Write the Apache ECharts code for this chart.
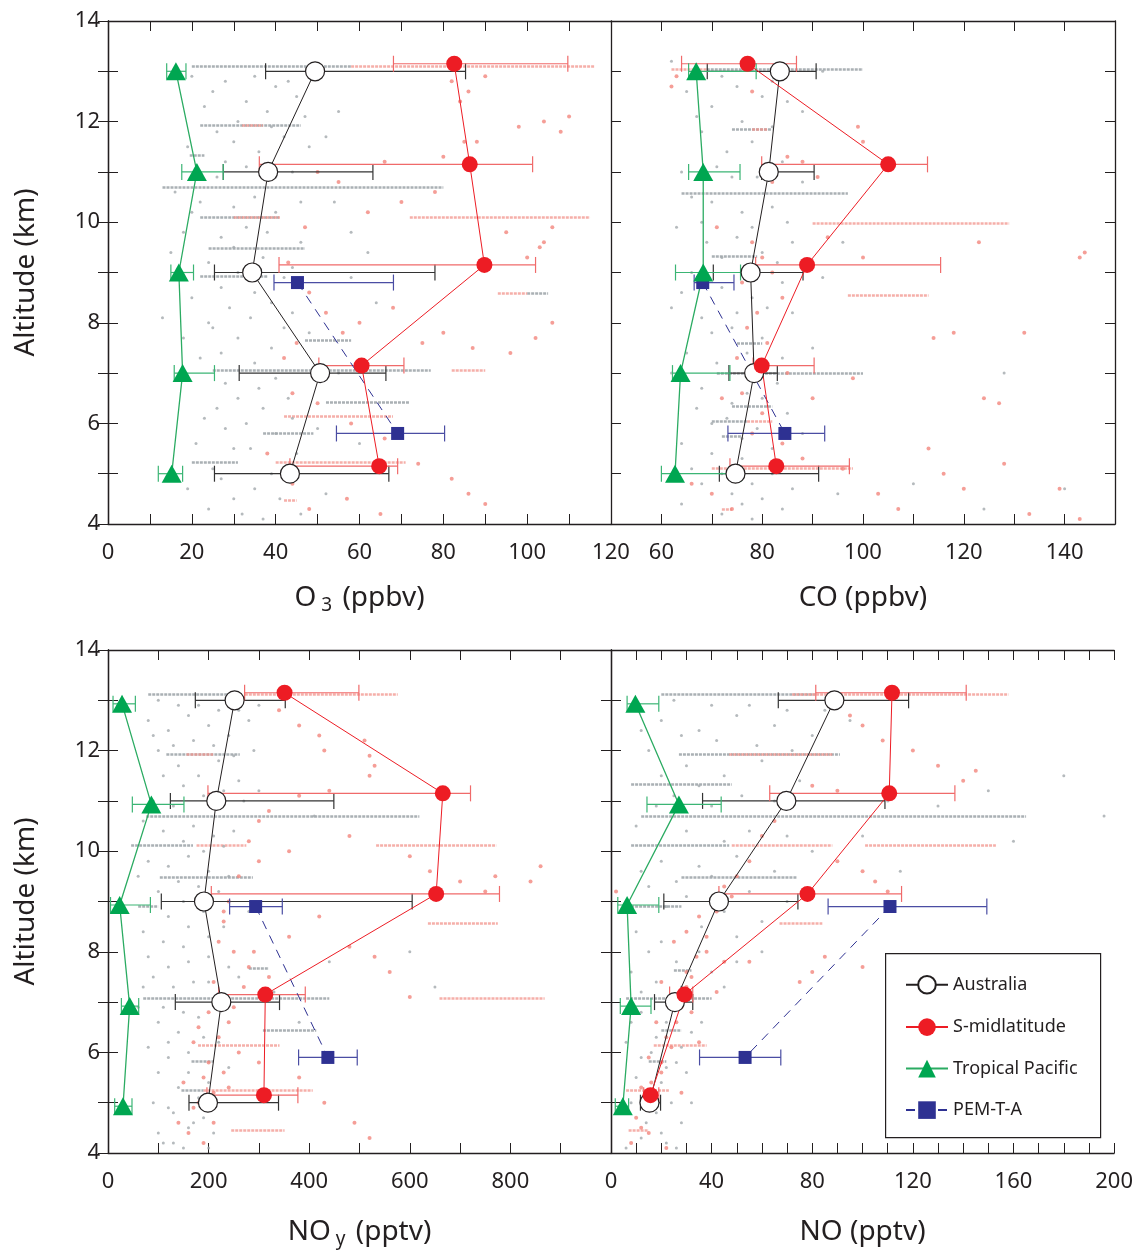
<!DOCTYPE html>
<html>
<head>
<meta charset="utf-8">
<script src="https://cdn.jsdelivr.net/npm/echarts@6/dist/echarts.min.js"></script>
<style>
  html, body { margin: 0; padding: 0; background: #fff; }
  #chart { width: 1136px; height: 1250px; }
</style>
</head>
<body>
<div id="chart"></div>
<script>
// altitude bins (km)
const ALT_AUS = [13, 11, 9, 7, 5];
const ALT_MID = [13.15, 11.15, 9.15, 7.15, 5.15];
const ALT_TROP_TOP = [13, 11, 9, 7, 5];
const ALT_TROP_BOT = [12.93, 10.93, 8.93, 6.92, 4.93];
const ALT_PEM_TOP = [8.8, 5.8];
const ALT_PEM_BOT = [8.9, 5.9];

// O3 (ppbv)
const o3Aus = [49.4, 38.2, 34.4, 50.6, 43.4];
const o3AusLo = [37.6, 27.5, 25.4, 31.3, 25.4];
const o3AusHi = [85.3, 63.2, 78, 66.3, 67];
const o3Mid = [82.6, 86.3, 89.8, 60.5, 64.7];
const o3MidLo = [68.1, 36.1, 40.8, 50.3, 43.4];
const o3MidHi = [109.7, 101.3, 102, 70.6, 69.1];
const o3Trop = [16.2, 21.2, 16.9, 17.8, 15.2];
const o3TropLo = [14, 17.6, 15, 15.8, 12];
const o3TropHi = [18.6, 27.5, 20.4, 25.4, 17.8];
const o3Pem = [45.2, 69.1];
const o3PemLo = [39.6, 54.5];
const o3PemHi = [68.1, 80.3];

// CO (ppbv)
const coAus = [83.5, 81.3, 77.7, 78.4, 74.7];
const coAusLo = [69.1, 79.9, 70.3, 73.4, 71.5];
const coAusHi = [90.7, 90.3, 88.1, 83, 91.2];
const coMid = [77.1, 105, 88.9, 79.9, 82.8];
const coMidLo = [64, 79.9, 78.7, 78.2, 73.6];
const coMidHi = [86.8, 112.8, 115.4, 90.3, 97.3];
const coTrop = [66.9, 68.3, 68.3, 63.8, 62.7];
const coTropLo = [65.4, 65.4, 62.8, 62.2, 60];
const coTropHi = [78.8, 75.6, 75.7, 73.6, 75.8];
const coPem = [68.2, 84.5];
const coPemLo = [66.5, 73.2];
const coPemHi = [74.4, 92.4];

// NOy (pptv)
const noyAus = [251.7, 215.3, 190.8, 225.3, 198.7];
const noyAusLo = [173.6, 124, 106, 133.8, 161];
const noyAusHi = [352.4, 449, 604.7, 341, 339];
const noyMid = [351, 665.6, 652.4, 312.7, 310];
const noyMidLo = [271.6, 198.7, 205.4, 220, 196.7];
const noyMidHi = [498.8, 720.7, 778.3, 392.2, 377.5];
const noyTrop = [27.9, 86.2, 23.2, 43.1, 29.8];
const noyTropLo = [10, 48.4, 5, 26.6, 13.3];
const noyTropHi = [54.4, 151, 84.3, 61, 47.7];
const noyPem = [293.5, 437.1];
const noyPemLo = [241.8, 378.9];
const noyPemHi = [346.5, 495.5];

// NO (pptv)
const noAus = [88.8, 69.7, 42.9, 25.4, 15.3];
const noAusLo = [66.5, 36.4, 21, 17.3, 11.7];
const noAusHi = [118.3, 108.9, 74.3, 32.5, 19.7];
const noMid = [111.7, 110.6, 78.1, 29.2, 15.7];
const noMidLo = [81.4, 63.1, 42.9, 23.3, 13];
const noMidHi = [141.2, 136.7, 115.5, 32.5, 19];
const noTrop = [9.7, 27, 6.4, 8, 4.7];
const noTropLo = [6.4, 14.3, 2.7, 3.7, 1.7];
const noTropHi = [19, 43.8, 19, 15.9, 7];
const noPem = [110.9, 53.3];
const noPemLo = [86.3, 35.2];
const noPemHi = [149.4, 67.5];

// flight legs at constant altitude: [alt, from, to]
const o3GrayLegs = [[13.1, 20, 58], [11.93, 22, 46], [11.33, 19.5, 23], [10.69, 13, 80], [10.1, 22, 41], [9.48, 24, 47], [8.92, 22, 38], [8.58, 100, 105], [7.65, 47, 58], [7.06, 25, 77], [6.43, 52, 72], [5.81, 37, 49], [5.23, 20, 31]];
const o3PinkLegs = [[13.1, 58, 116], [11.93, 32, 37], [10.1, 30, 41], [10.1, 72, 115], [8.58, 93, 100], [7.06, 82, 90], [6.15, 42, 68], [5.23, 40, 71], [4.47, 42, 45]];
const coGrayLegs = [[13.05, 69, 100], [11.85, 74, 82], [10.57, 64, 97], [9.32, 70, 79], [7.6, 75, 80], [6.99, 71, 100], [6.34, 74, 82], [6.04, 70, 77], [5.75, 72, 76]];
const coPinkLegs = [[13.05, 62, 69], [11.85, 78, 81], [9.97, 90, 129], [8.54, 97, 113], [6.04, 77, 82], [5.11, 70, 98], [4.3, 72, 74]];
const noyGrayLegs = [[13.13, 80, 248], [11.93, 116, 262], [10.7, 76, 619], [10.11, 46, 169], [9.48, 103, 288], [8.9, 60, 100], [7.68, 280, 320], [7.07, 70, 440], [6.45, 308, 414], [5.82, 166, 209], [5.24, 146, 190]];
const noyPinkLegs = [[13.13, 272, 576], [11.93, 156, 209], [10.11, 176, 275], [10.11, 533, 772], [8.57, 636, 775], [7.07, 659, 868], [6.15, 179, 341], [5.24, 190, 407], [4.46, 245, 351]];
const noGrayLegs = [[13.13, 20, 81], [11.93, 27, 91], [11.34, 8, 48], [10.7, 12, 165], [10.11, 8, 47], [9.48, 28, 74], [8.9, 8, 28], [7.64, 25, 32], [7.07, 6, 40], [6.45, 20, 28], [5.82, 15, 22]];
const noPinkLegs = [[13.13, 72, 158], [11.93, 47, 88], [10.11, 48, 88], [10.11, 101, 153], [8.57, 67, 84], [6.15, 17, 38], [5.24, 6, 23], [4.46, 7, 15]];

// individual measurements: [value, alt]
const o3Gray = [[25,12.6],[33,12.4],[40,12.7],[45,12.5],[38,12.2],[30,11.6],[42,11.7],[48,11.5],[55,12.2],[36,11.4],[28,11.2],[44,11.0],[22,10.4],[30,10.3],[35,10.5],[40,10.2],[18,9.8],[27,9.7],[33,9.9],[46,9.6],[24,9.2],[37,9.3],[42,8.9],[20,8.5],[29,8.3],[35,8.6],[44,8.2],[25,7.9],[31,7.7],[39,7.5],[48,7.8],[22,7.3],[28,6.8],[36,6.7],[43,6.5],[26,6.3],[33,6.0],[40,5.8],[21,5.6],[30,5.5],[45,5.4],[27,4.9],[35,4.7],[41,4.5],[24,4.3],[32,4.2],[52,4.6],[60,5.6],[64,8.4],[58,9.8],[13,8.1],
  [20,12.9],[28,12.8],[35,12.9],[43,12.8],[50,12.9],[23,12.3],[31,12.0],[47,12.1],[52,11.7],[19,11.5],[26,11.8],[39,11.9],[33,11.1],[40,10.9],[46,10.4],[16,10.6],[26,10.9],[20,10.2],[38,9.8],[30,9.5],[15,9.4],[44,9.1],[31,9.0],[27,8.7],[39,8.4],[24,8.0],[34,8.1],[18,7.7],[42,7.9],[27,7.4],[35,7.2],[19,6.9],[40,6.9],[31,6.5],[23,6.1],[37,6.3],[28,5.9],[44,6.1],[34,5.5],[25,5.1],[39,5.0],[19,4.7],[30,4.5],[46,4.2],[37,4.1],[55,7.0],[50,5.9],[58,8.9],[62,9.4],[54,10.4]];
const o3Pink = [[82,12.8],[86,12.6],[84,12.4],[90,12.9],[104,12.0],[108,11.8],[110,12.1],[85,11.6],[98,11.9],[80,11.3],[88,11.6],[66,11.2],[50,11.0],[55,10.8],[62,10.2],[70,10.4],[78,10.6],[95,9.8],[100,9.3],[104,9.6],[106,9.9],[103,9.5],[47,9.9],[43,9.2],[48,8.6],[52,8.2],[56,7.8],[60,8.0],[68,8.3],[75,7.6],[80,7.8],[87,7.5],[96,7.4],[102,7.7],[106,8.0],[45,7.6],[42,7.3],[44,6.6],[50,6.4],[58,6.0],[66,5.7],[74,5.2],[82,4.9],[86,4.6],[90,4.4],[44,4.8],[48,4.3],[57,4.5],[65,4.2],[38,5.4]];
const coGray = [[65,12.6],[70,12.3],[75,12.7],[80,12.5],[85,12.4],[68,11.8],[73,11.4],[78,11.6],[84,11.2],[64,11.0],[70,10.4],[76,10.2],[82,10.3],[88,10.8],[63,9.9],[69,9.6],[75,9.7],[80,9.4],[86,9.6],[66,9.0],[72,8.7],[78,8.5],[84,8.8],[62,8.3],[68,8.1],[74,7.9],[80,7.7],[86,8.2],[65,7.4],[71,7.2],[77,6.6],[83,6.8],[67,6.3],[73,6.1],[79,5.9],[85,6.2],[64,5.6],[70,5.4],[76,5.7],[82,5.5],[68,4.8],[74,4.6],[80,4.5],[86,4.7],[72,4.2],[78,4.1],[95,4.6],[110,4.8],[124,4.3],[128,7.0],[140,4.7],
  [62,13.2],[72,12.9],[82,12.8],[67,12.1],[76,12.0],[82,11.9],[71,11.1],[79,10.9],[66,10.5],[74,10.9],[85,10.0],[68,10.0],[78,9.9],[72,9.3],[83,9.2],[64,8.6],[75,8.2],[81,8.3],[70,7.8],[77,7.4],[84,7.3],[62,7.0],[68,6.7],[74,6.4],[80,6.5],[70,6.0],[76,5.3],[82,5.0],[66,5.1],[72,5.0],[78,4.8],[84,4.3],[64,4.4],[76,4.4],[88,5.8],[90,7.5],[92,8.9],[96,9.6],[88,12.2],[92,13.0]];
const coPink = [[78,12.6],[62,12.7],[63,12.9],[99,11.9],[100,11.6],[91,10.9],[88,11.2],[85,11.3],[81,11.0],[82,10.8],[71,9.9],[78,9.6],[80,9.3],[82,9.0],[84,8.5],[76,8.8],[79,8.2],[77,7.9],[81,7.6],[75,7.3],[85,7.0],[72,6.5],[76,6.6],[80,6.2],[78,5.8],[84,5.6],[88,5.3],[90,6.5],[93,9.7],[98,6.9],[100,9.3],[114,7.7],[118,7.8],[123,9.6],[132,7.8],[143,9.3],[144,9.4],[124,6.5],[127,6.4],[96,5.1],[103,4.6],[107,4.3],[113,5.5],[116,5.0],[120,4.7],[128,5.2],[133,4.2],[139,4.7],[143,4.1],[70,4.6],[74,4.3],[66,4.8]];
const noyGray = [[80,12.6],[120,12.4],[160,12.7],[200,12.5],[240,12.3],[280,12.6],[100,12.0],[140,11.7],[180,11.5],[220,11.8],[260,11.4],[300,11.2],[90,11.0],[130,10.9],[170,10.5],[210,10.3],[250,10.4],[80,9.8],[120,9.7],[160,9.9],[200,9.6],[240,9.5],[100,9.2],[150,9.0],[190,8.8],[230,8.5],[70,8.4],[110,8.2],[150,8.1],[200,7.9],[240,7.7],[90,7.5],[130,7.3],[170,7.4],[60,6.9],[100,6.6],[140,6.4],[180,6.7],[220,6.2],[80,6.1],[120,5.9],[160,5.6],[200,5.4],[240,5.7],[90,5.0],[130,4.8],[170,4.6],[210,4.4],[110,4.2],[150,4.1],[330,7.2],[380,6.6],[440,7.8],[410,10.7],[600,8.0],[650,7.3],
  [100,13.0],[140,12.9],[180,12.9],[220,12.8],[260,12.8],[300,12.9],[90,12.3],[130,12.1],[170,12.2],[210,12.1],[250,11.9],[290,12.0],[110,11.5],[150,11.3],[190,11.1],[230,11.2],[270,11.0],[70,10.6],[110,10.4],[150,10.2],[190,10.0],[230,10.1],[60,9.5],[140,9.4],[180,9.3],[220,9.2],[120,8.7],[160,8.5],[200,8.3],[80,7.9],[120,7.7],[160,7.8],[200,7.4],[70,7.3],[110,6.9],[150,6.8],[190,6.3],[120,6.2],[160,6.0],[100,5.6],[140,5.3],[180,5.1],[120,4.9],[160,4.5],[190,4.7],[100,4.4],[130,4.2],[200,4.1],[260,7.5],[280,8.8]];
const noyPink = [[340,12.8],[380,12.5],[420,12.3],[430,12.0],[510,12.2],[520,11.9],[530,11.7],[520,11.5],[440,11.2],[380,11.1],[320,10.8],[300,10.6],[280,10.2],[360,10.0],[480,10.3],[600,9.9],[640,9.6],[700,9.4],[750,9.2],[770,9.5],[840,9.4],[860,9.7],[300,9.8],[260,9.5],[240,9.0],[230,8.6],[220,8.2],[250,8.0],[280,7.7],[320,7.5],[360,8.3],[420,8.7],[480,8.1],[530,7.9],[560,7.6],[600,7.1],[210,7.4],[200,6.8],[180,6.5],[240,6.6],[260,6.0],[230,5.6],[210,5.2],[300,5.8],[380,5.5],[430,5.0],[490,4.6],[520,4.3],[170,4.9],[190,4.2],[140,4.6],[150,5.4],
  [160,4.4],[180,5.0],[200,5.8],[220,6.3],[250,6.9],[270,7.3],[290,8.0],[230,8.8],[190,5.5],[170,6.2],[210,4.6],[240,5.3]];
const noGray = [[20,12.6],[35,12.4],[50,12.7],[65,12.5],[80,12.3],[95,12.6],[15,12.0],[30,11.7],[45,11.5],[60,11.8],[75,11.4],[25,11.1],[40,10.9],[55,10.4],[70,10.3],[10,10.5],[20,9.8],[35,9.7],[50,9.9],[65,9.6],[15,9.3],[30,9.1],[45,8.8],[60,8.6],[10,8.4],[20,8.2],[35,8.0],[50,7.8],[8,7.6],[18,7.4],[28,7.3],[40,7.6],[12,6.8],[22,6.6],[32,6.4],[6,6.2],[16,6.0],[26,5.8],[10,5.5],[20,5.4],[30,5.6],[8,5.0],[18,4.8],[28,4.6],[12,4.3],[22,4.2],[110,11.0],[150,11.2],[180,11.5],[115,9.6],[196,10.7],
  [25,13.0],[40,12.9],[55,12.9],[70,12.8],[85,12.8],[12,12.4],[28,12.3],[42,12.2],[58,12.1],[72,12.0],[20,11.5],[35,11.3],[52,11.1],[65,11.0],[18,10.9],[30,10.4],[45,10.2],[80,10.0],[12,9.6],[26,9.4],[40,9.5],[55,9.2],[22,8.9],[36,8.5],[50,8.3],[15,8.0],[26,7.8],[12,7.2],[22,7.0],[32,7.2],[8,6.6],[18,6.3],[28,6.1],[12,5.9],[22,5.7],[14,5.2],[24,5.0],[6,4.8],[14,4.6],[20,4.4],[6,4.1],[26,4.1],[32,5.0],[36,6.6],[45,7.3],[60,8.0],[70,9.0],[100,10.3],[130,10.9],[160,10.2]];
const noPink = [[95,12.7],[100,12.5],[108,12.2],[120,12.0],[130,11.7],[140,11.4],[145,11.6],[90,11.2],[80,11.3],[72,10.9],[65,10.6],[60,10.3],[90,9.8],[100,9.6],[105,9.4],[110,9.2],[55,9.8],[50,9.5],[45,9.3],[40,9.0],[35,8.7],[30,8.4],[25,8.2],[38,8.0],[45,7.8],[30,7.6],[20,7.4],[25,7.0],[32,6.8],[18,6.6],[22,6.3],[15,5.9],[20,5.6],[12,5.3],[18,5.0],[10,4.7],[15,4.4],[8,4.2],[28,5.2],[35,6.2],[42,7.2],[55,7.8],[75,7.4],[80,7.6],[85,7.9],[100,7.7],[2,9.2],
  [14,4.9],[20,5.8],[26,6.6],[30,7.3],[34,7.9],[24,6.1],[16,5.4],[12,4.5],[22,4.1],[28,6.9],[38,8.3],[42,8.8],[48,9.1],[18,5.2],[32,7.5]];

const FONT = 'Noto Sans';
const INK = '#231f20';
const RED = '#ed1c24';
const GREEN = '#00a651';
const BLUE = '#2e3192';

const panels = [
  { box: { left: 108, top: 21, width: 503, height: 503 }, min: 0, max: 120, step: 10, every: 20, last: 120,
    name: '{a|O}{s|3}{a| (ppbv)}', nameGap: 57, yName: true,
    aus: [o3Aus, o3AusLo, o3AusHi], mid: [o3Mid, o3MidLo, o3MidHi], trop: [o3Trop, o3TropLo, o3TropHi], pem: [o3Pem, o3PemLo, o3PemHi],
    altT: ALT_TROP_TOP, altP: ALT_PEM_TOP, gray: o3Gray, pink: o3Pink, grayLegs: o3GrayLegs, pinkLegs: o3PinkLegs },
  { box: { left: 611, top: 21, width: 504, height: 503 }, min: 50, max: 150, step: 10, every: 20, last: 140,
    name: '{a|CO (ppbv)}', nameGap: 57, yName: false,
    aus: [coAus, coAusLo, coAusHi], mid: [coMid, coMidLo, coMidHi], trop: [coTrop, coTropLo, coTropHi], pem: [coPem, coPemLo, coPemHi],
    altT: ALT_TROP_TOP, altP: ALT_PEM_TOP, gray: coGray, pink: coPink, grayLegs: coGrayLegs, pinkLegs: coPinkLegs },
  { box: { left: 108, top: 650, width: 503, height: 503 }, min: 0, max: 1000, step: 100, every: 200, last: 800,
    name: '{a|NO}{s|y}{a| (pptv)}', nameGap: 62, yName: true,
    aus: [noyAus, noyAusLo, noyAusHi], mid: [noyMid, noyMidLo, noyMidHi], trop: [noyTrop, noyTropLo, noyTropHi], pem: [noyPem, noyPemLo, noyPemHi],
    altT: ALT_TROP_BOT, altP: ALT_PEM_BOT, gray: noyGray, pink: noyPink, grayLegs: noyGrayLegs, pinkLegs: noyPinkLegs },
  { box: { left: 611, top: 650, width: 504, height: 503 }, min: 0, max: 200, step: 10, every: 40, last: 200,
    name: '{a|NO (pptv)}', nameGap: 62, yName: false,
    aus: [noAus, noAusLo, noAusHi], mid: [noMid, noMidLo, noMidHi], trop: [noTrop, noTropLo, noTropHi], pem: [noPem, noPemLo, noPemHi],
    altT: ALT_TROP_BOT, altP: ALT_PEM_BOT, gray: noGray, pink: noPink, grayLegs: noGrayLegs, pinkLegs: noPinkLegs }
];

const axisLine = { show: true, lineStyle: { color: INK, width: 1.3 } };
const tick = { show: true, inside: true, length: 10, lineStyle: { color: INK, width: 1 } };

const grid = [], xAxis = [], yAxis = [], series = [];

function errorBars(gi, vals, alt, color) {
  const [, lo, hi] = vals;
  return {
    type: 'custom', xAxisIndex: gi * 2, yAxisIndex: gi * 2, z: 3, silent: true,
    data: alt.map((a, k) => [lo[k], hi[k], a]),
    encode: { x: [0, 1], y: 2 },
    renderItem: function (params, api) {
      const p0 = api.coord([api.value(0), api.value(2)]);
      const p1 = api.coord([api.value(1), api.value(2)]);
      const h = 8;
      const st = { stroke: color, lineWidth: 1.2 };
      return { type: 'group', children: [
        { type: 'line', shape: { x1: p0[0], y1: p0[1], x2: p1[0], y2: p1[1] }, style: st },
        { type: 'line', shape: { x1: p0[0], y1: p0[1] - h, x2: p0[0], y2: p0[1] + h }, style: st },
        { type: 'line', shape: { x1: p1[0], y1: p1[1] - h, x2: p1[0], y2: p1[1] + h }, style: st }
      ] };
    }
  };
}

function profile(gi, name, vals, alt, opt) {
  return Object.assign({
    name: name, type: 'line', xAxisIndex: gi * 2, yAxisIndex: gi * 2, z: 5, silent: true,
    data: vals[0].map((v, k) => [v, alt[k]])
  }, opt);
}

function legs(gi, list, color) {
  return {
    type: 'lines', coordinateSystem: 'cartesian2d', xAxisIndex: gi * 2, yAxisIndex: gi * 2, z: 1, silent: true,
    data: list.map(s => ({ coords: [[s[1], s[0]], [s[2], s[0]]] })),
    lineStyle: { color: color, width: 2.5, opacity: 0.75, type: [3, 1] }
  };
}

panels.forEach((p, gi) => {
  grid.push(Object.assign({ containLabel: false }, p.box));
  const fmt = v => {
    const r = Math.round(v);
    return (r % p.every === 0 && r <= p.last) ? String(r) : '';
  };
  xAxis.push({
    type: 'value', gridIndex: gi, position: 'bottom', min: p.min, max: p.max, interval: p.step,
    axisLine: axisLine, axisTick: tick, splitLine: { show: false },
    axisLabel: { formatter: fmt, margin: 18, fontSize: 22, fontFamily: FONT, color: INK, showMinLabel: true, showMaxLabel: true },
    name: p.name, nameLocation: 'middle', nameGap: p.nameGap,
    nameTextStyle: {
      fontFamily: FONT, color: INK,
      rich: {
        a: { fontSize: 28, fontFamily: FONT, color: INK, lineHeight: 34 },
        s: { fontSize: 19, fontFamily: FONT, color: INK, lineHeight: 19, verticalAlign: 'bottom', padding: [0, 3, 0, 5] }
      }
    }
  });
  xAxis.push({
    type: 'value', gridIndex: gi, position: 'top', min: p.min, max: p.max, interval: p.step,
    axisLine: axisLine, axisTick: tick, splitLine: { show: false }, axisLabel: { show: false }
  });
  yAxis.push({
    type: 'value', gridIndex: gi, position: 'left', min: 4, max: 14, interval: 1,
    axisLine: axisLine, axisTick: tick, splitLine: { show: false },
    axisLabel: { show: p.yName, formatter: v => (Math.round(v) % 2 === 0 ? String(Math.round(v)) : ''), margin: 8,
      fontSize: 22, fontFamily: FONT, color: INK, showMinLabel: true, showMaxLabel: true },
    name: p.yName ? 'Altitude (km)' : '', nameLocation: 'middle', nameGap: 68,
    nameTextStyle: { fontSize: 28, fontFamily: FONT, color: INK }
  });
  yAxis.push({
    type: 'value', gridIndex: gi, position: 'right', min: 4, max: 14, interval: 1,
    axisLine: axisLine, axisTick: tick, splitLine: { show: false }, axisLabel: { show: false }
  });

  series.push({ type: 'scatter', xAxisIndex: gi * 2, yAxisIndex: gi * 2, z: 1, silent: true,
    data: p.gray, symbolSize: 3, itemStyle: { color: '#a2a9ad' } });
  series.push(legs(gi, p.grayLegs, '#8d969b'));
  series.push({ type: 'scatter', xAxisIndex: gi * 2, yAxisIndex: gi * 2, z: 1, silent: true,
    data: p.pink, symbolSize: 4, itemStyle: { color: '#f3867d' } });
  series.push(legs(gi, p.pinkLegs, '#f2948c'));

  series.push(errorBars(gi, p.aus, ALT_AUS, '#333'));
  series.push(errorBars(gi, p.mid, ALT_MID, '#f06a6a'));
  series.push(errorBars(gi, p.trop, p.altT, '#3bb574'));
  series.push(errorBars(gi, p.pem, p.altP, '#4a4da3'));

  series.push(profile(gi, 'PEM-T-A', p.pem, p.altP, {
    symbol: 'rect', symbolSize: 13, itemStyle: { color: BLUE }, lineStyle: { color: BLUE, width: 1, type: [9, 7] } }));
  series.push(profile(gi, 'Tropical Pacific', p.trop, p.altT, {
    symbol: 'triangle', symbolSize: [20, 18], itemStyle: { color: GREEN }, lineStyle: { color: '#2bab62', width: 1.3 } }));
  series.push(profile(gi, 'Australia', p.aus, ALT_AUS, {
    symbol: 'circle', symbolSize: 19, itemStyle: { color: '#fff', borderColor: INK, borderWidth: 1.2 }, lineStyle: { color: INK, width: 1 } }));
  series.push(profile(gi, 'S-midlatitude', p.mid, ALT_MID, {
    symbol: 'circle', symbolSize: 16, itemStyle: { color: RED }, lineStyle: { color: RED, width: 1 } }));
});

const chart = echarts.init(document.getElementById('chart'));
chart.setOption({
  animation: false,
  backgroundColor: '#fff',
  textStyle: { fontFamily: FONT },
  grid: grid,
  xAxis: xAxis,
  yAxis: yAxis,
  legend: {
    data: ['Australia', 'S-midlatitude', 'Tropical Pacific', 'PEM-T-A'],
    orient: 'vertical', left: 900, top: 970, itemWidth: 42, itemHeight: 22, itemGap: 23.5,
    textStyle: { fontSize: 18, fontFamily: FONT, color: INK }
  },
  graphic: [{
    type: 'rect', left: 885, top: 953, z: 10,
    shape: { width: 215, height: 184 },
    style: { fill: 'rgba(255,255,255,0)', stroke: INK, lineWidth: 1.2 }
  }],
  series: series
});
window.addEventListener('resize', () => chart.resize());
</script>
</body>
</html>
